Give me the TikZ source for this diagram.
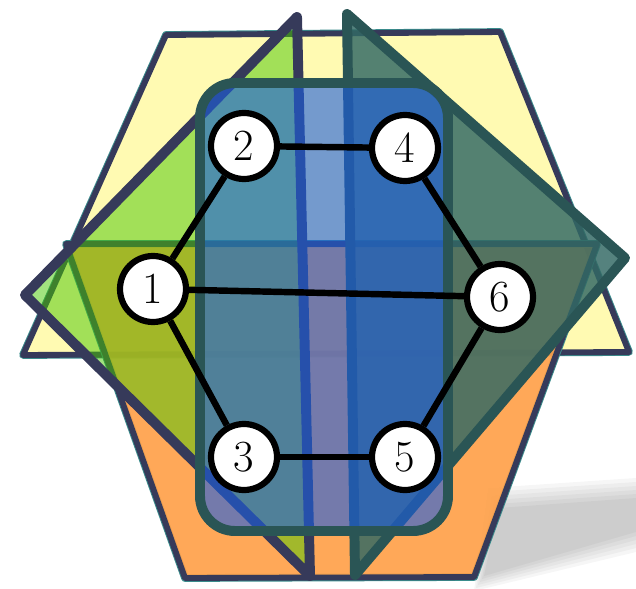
\documentclass[tikz,border=0pt]{standalone}
\usetikzlibrary{positioning}

\definecolor{hexyellow}{RGB}{255,250,178}
\definecolor{hexorange}{RGB}{255,161,74}
\definecolor{navyedge}{RGB}{54,58,90}
\definecolor{tealline}{RGB}{58,140,140}
\definecolor{greenfill}{RGB}{70,200,0}
\definecolor{tealfill}{RGB}{50,105,100}
\definecolor{tealedge}{RGB}{42,85,85}
\definecolor{bluefill}{RGB}{29,94,223}

\begin{document}
\begin{tikzpicture}[x=0.03cm, y=-0.03cm,
    vertex/.style={circle, draw=black, fill=white, line width=5.3pt, minimum size=1.98cm, inner sep=0pt, font=\fontsize{38}{44}\selectfont},
    link/.style={black, line width=5.5pt}]
    \useasboundingbox (0,0) rectangle (636,589);

    % Soft shadow towards the lower right
    \foreach \k in {0,...,5}
        \fill[black, fill opacity=0.035] (498-2*\k,508-4*\k) -- (636,498-4*\k) -- (636,532+4*\k) -- (484-2*\k,576+3*\k) -- cycle;

    % Upper piece of the hexagon: yellow trapezoid
    \coordinate (Y1) at (166,35);
    \coordinate (Y2) at (500,32);
    \coordinate (Y3) at (629,352);
    \coordinate (Y4) at (23,355);
    \draw[tealline, line width=6.6pt, line join=round] (Y1) -- (Y2) -- (Y3) -- (Y4) -- cycle;
    \filldraw[fill=hexyellow, draw=navyedge, line width=5pt, line join=round] (Y1) -- (Y2) -- (Y3) -- (Y4) -- cycle;

    % Lower piece of the hexagon: orange trapezoid
    \coordinate (O1) at (66,244);
    \coordinate (O2) at (597,244);
    \coordinate (O3) at (474,577);
    \coordinate (O4) at (185,578);
    \draw[tealline, line width=6.6pt, line join=round] (O1) -- (O2) -- (O3) -- (O4) -- cycle;
    \filldraw[fill=hexorange, fill opacity=0.92, draw=navyedge, line width=5pt, line join=round] (O1) -- (O2) -- (O3) -- (O4) -- cycle;

    % Left half-square: green triangle
    \coordinate (G1) at (297,17);
    \coordinate (G2) at (25,295);
    \coordinate (G3) at (310,576);
    \filldraw[fill=greenfill, fill opacity=0.5, draw=navyedge, line width=8.5pt, line join=round] (G1) -- (G2) -- (G3) -- cycle;

    % Right half-square: teal triangle
    \coordinate (T1) at (347,14);
    \coordinate (T2) at (625,258);
    \coordinate (T3) at (355,575);
    \filldraw[fill=tealfill, fill opacity=0.83, draw=tealedge, line width=8.5pt, line join=round] (T1) -- (T2) -- (T3) -- cycle;

    % Blue box over the middle
    \filldraw[fill=bluefill, fill opacity=0.61, draw=tealedge, line width=8.5pt, rounded corners=1.05cm] (200,83) rectangle (448,531);

    % Graph
    \node[vertex] (n1) at (153,289) {1};
    \node[vertex] (n2) at (244,146) {2};
    \node[vertex] (n3) at (244,457) {3};
    \node[vertex] (n4) at (405,148) {4};
    \node[vertex] (n5) at (405,457) {5};
    \node[vertex] (n6) at (500,297) {6};

    \draw[link] (n1) -- (n2);
    \draw[link] (n1) -- (n3);
    \draw[link] (n1) -- (n6);
    \draw[link] (n2) -- (n4);
    \draw[link] (n4) -- (n6);
    \draw[link] (n6) -- (n5);
    \draw[link] (n5) -- (n3);

\end{tikzpicture}
\end{document}
